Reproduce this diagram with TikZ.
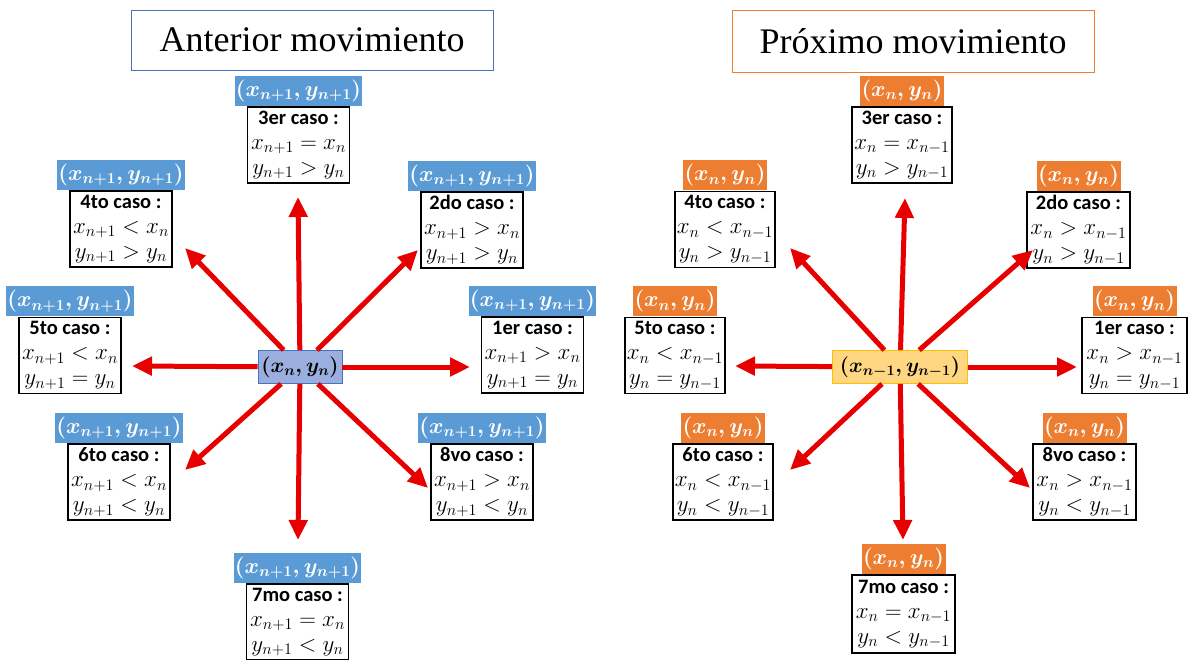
\documentclass[tikz,border=0pt]{standalone}
\usepackage{fix-cm}
\usepackage{amsmath}
\usepackage{fontspec}
\setmainfont{Liberation Serif}
\newfontfamily\casefont{Carlito}
\usetikzlibrary{arrows.meta, positioning}
\definecolor{ttlblue}{RGB}{68,114,196}
\definecolor{ttlorange}{RGB}{237,125,49}
\definecolor{hdblue}{RGB}{91,155,213}
\definecolor{hdorange}{RGB}{237,125,49}
\definecolor{ctrblue}{RGB}{155,175,222}
\definecolor{ctrgold}{RGB}{255,192,0}
\definecolor{ctrorange}{RGB}{255,214,130}
\definecolor{arrowred}{RGB}{232,0,0}
\newcommand\caso[3]{{\casefont\bfseries\fontsize{20.5}{25}\selectfont #1}\\ $#2$\\ $#3$}
\tikzset{
    % Titles
    ttlbox/.style={rectangle, draw=#1, line width=0.8pt, minimum width=362pt,
                minimum height=60pt, font=\fontsize{36}{40}\selectfont},
    % Point headers
    hdbox/.style={rectangle, fill=#1, text=white, minimum height=30pt, inner sep=1pt,
                font=\boldmath\fontsize{22}{24}\selectfont},
    % Case boxes
    casebox/.style={rectangle, draw=black, line width=1.6pt, fill=white,
                minimum width=102pt, minimum height=76pt, inner sep=1pt,
                align=center, font=\fontsize{23}{25}\selectfont},
    % Centre points
    ctrbox/.style={rectangle, draw=#1, line width=0.8pt, minimum height=33pt, inner sep=3pt,
                font=\boldmath\fontsize{21}{24}\selectfont},
    % Moves
    marrow/.style={-{Triangle[length=20pt,width=18pt]}, line width=5pt, arrowred},
}

\begin{document}
\begin{tikzpicture}[x=1pt, y=-1pt]
\useasboundingbox (0,0) rectangle (1189,660);

% Anterior movimiento
\node[ttlbox=ttlblue] (ttlA) at (312,40) {Anterior movimiento};
\node[ctrbox=ttlblue, fill=ctrblue, minimum width=84pt] (cA) at (300,367) {$(x_n, y_n)$};

\node[casebox] (a1) at (532.5,355) {\caso{1er caso :}{x_{n+1} > x_n}{y_{n+1} = y_n}};
\node[casebox] (a2) at (472,230) {\caso{2do caso :}{x_{n+1} > x_n}{y_{n+1} > y_n}};
\node[casebox] (a3) at (298.5,145) {\caso{3er caso :}{x_{n+1} = x_n}{y_{n+1} > y_n}};
\node[casebox] (a4) at (121,229) {\caso{4to caso :}{x_{n+1} < x_n}{y_{n+1} > y_n}};
\node[casebox] (a5) at (70,355.5) {\caso{5to caso :}{x_{n+1} < x_n}{y_{n+1} = y_n}};
\node[casebox] (a6) at (119,482) {\caso{6to caso :}{x_{n+1} < x_n}{y_{n+1} < y_n}};
\node[casebox] (a7) at (297.5,622) {\caso{7mo caso :}{x_{n+1} = x_n}{y_{n+1} < y_n}};
\node[casebox] (a8) at (482,482) {\caso{8vo caso :}{x_{n+1} > x_n}{y_{n+1} < y_n}};

\node[hdbox=hdblue, minimum width=125pt, above=0pt of a1] (ha1) {$(x_{n+1}, y_{n+1})$};
\node[hdbox=hdblue, minimum width=125pt, above=0pt of a2] (ha2) {$(x_{n+1}, y_{n+1})$};
\node[hdbox=hdblue, minimum width=125pt, above=0pt of a3] (ha3) {$(x_{n+1}, y_{n+1})$};
\node[hdbox=hdblue, minimum width=125pt, above=0pt of a4] (ha4) {$(x_{n+1}, y_{n+1})$};
\node[hdbox=hdblue, minimum width=125pt, above=0pt of a5] (ha5) {$(x_{n+1}, y_{n+1})$};
\node[hdbox=hdblue, minimum width=125pt, above=0pt of a6] (ha6) {$(x_{n+1}, y_{n+1})$};
\node[hdbox=hdblue, minimum width=125pt, above=0pt of a7] (ha7) {$(x_{n+1}, y_{n+1})$};
\node[hdbox=hdblue, minimum width=125pt, above=0pt of a8] (ha8) {$(x_{n+1}, y_{n+1})$};

\coordinate (ta1) at (470,367);
\coordinate (ta2) at (418,250);
\coordinate (ta3) at (298,197);
\coordinate (ta4) at (185,248);
\coordinate (ta5) at (132,366);
\coordinate (ta6) at (185,470);
\coordinate (ta7) at (298,540);
\coordinate (ta8) at (428,488);
\draw[marrow] (cA) -- (ta1);
\draw[marrow] (cA) -- (ta2);
\draw[marrow] (cA) -- (ta3);
\draw[marrow] (cA) -- (ta4);
\draw[marrow] (cA) -- (ta5);
\draw[marrow] (cA) -- (ta6);
\draw[marrow] (cA) -- (ta7);
\draw[marrow] (cA) -- (ta8);

% Proximo movimiento
\node[ttlbox=ttlorange, minimum height=62pt] (ttlP) at (913,41) {Próximo movimiento};
\node[ctrbox=ctrgold, fill=ctrorange, minimum width=135pt] (cP) at (900,367) {$(x_{n-1}, y_{n-1})$};

\node[casebox, minimum width=105pt] (p1) at (1134.5,355.5) {\caso{1er caso :}{x_n > x_{n-1}}{y_n = y_{n-1}}};
\node[casebox, minimum width=103pt] (p2) at (1078.5,230) {\caso{2do caso :}{x_n > x_{n-1}}{y_n > y_{n-1}}};
\node[casebox, minimum width=100pt] (p3) at (902,145) {\caso{3er caso :}{x_n = x_{n-1}}{y_n > y_{n-1}}};
\node[casebox, minimum width=100pt] (p4) at (725,229.5) {\caso{4to caso :}{x_n < x_{n-1}}{y_n > y_{n-1}}};
\node[casebox, minimum width=100pt] (p5) at (675,355.5) {\caso{5to caso :}{x_n < x_{n-1}}{y_n = y_{n-1}}};
\node[casebox, minimum width=100pt] (p6) at (723,482) {\caso{6to caso :}{x_n < x_{n-1}}{y_n < y_{n-1}}};
\node[casebox, minimum width=103pt, minimum height=78pt] (p7) at (903.5,614) {\caso{7mo caso :}{x_n = x_{n-1}}{y_n < y_{n-1}}};
\node[casebox, minimum width=103pt] (p8) at (1084.5,482) {\caso{8vo caso :}{x_n > x_{n-1}}{y_n < y_{n-1}}};

\node[hdbox=hdorange, minimum width=84pt, above=0pt of p1] (hp1) {$(x_n, y_n)$};
\node[hdbox=hdorange, minimum width=84pt, above=0pt of p2] (hp2) {$(x_n, y_n)$};
\node[hdbox=hdorange, minimum width=84pt, above=0pt of p3] (hp3) {$(x_n, y_n)$};
\node[hdbox=hdorange, minimum width=84pt, above=0pt of p4] (hp4) {$(x_n, y_n)$};
\node[hdbox=hdorange, minimum width=84pt, above=0pt of p5] (hp5) {$(x_n, y_n)$};
\node[hdbox=hdorange, minimum width=84pt, above=0pt of p6] (hp6) {$(x_n, y_n)$};
\node[hdbox=hdorange, minimum width=84pt, above=0pt of p7] (hp7) {$(x_n, y_n)$};
\node[hdbox=hdorange, minimum width=84pt, above=0pt of p8] (hp8) {$(x_n, y_n)$};

\coordinate (tp1) at (1077,367);
\coordinate (tp2) at (1033,250);
\coordinate (tp3) at (905,198);
\coordinate (tp4) at (790,248);
\coordinate (tp5) at (735,366);
\coordinate (tp6) at (790,470);
\coordinate (tp7) at (903,540);
\coordinate (tp8) at (1030,488);
\draw[marrow] (cP) -- (tp1);
\draw[marrow] (cP) -- (tp2);
\draw[marrow] (cP) -- (tp3);
\draw[marrow] (cP) -- (tp4);
\draw[marrow] (cP) -- (tp5);
\draw[marrow] (cP) -- (tp6);
\draw[marrow] (cP) -- (tp7);
\draw[marrow] (cP) -- (tp8);
\end{tikzpicture}
\end{document}
